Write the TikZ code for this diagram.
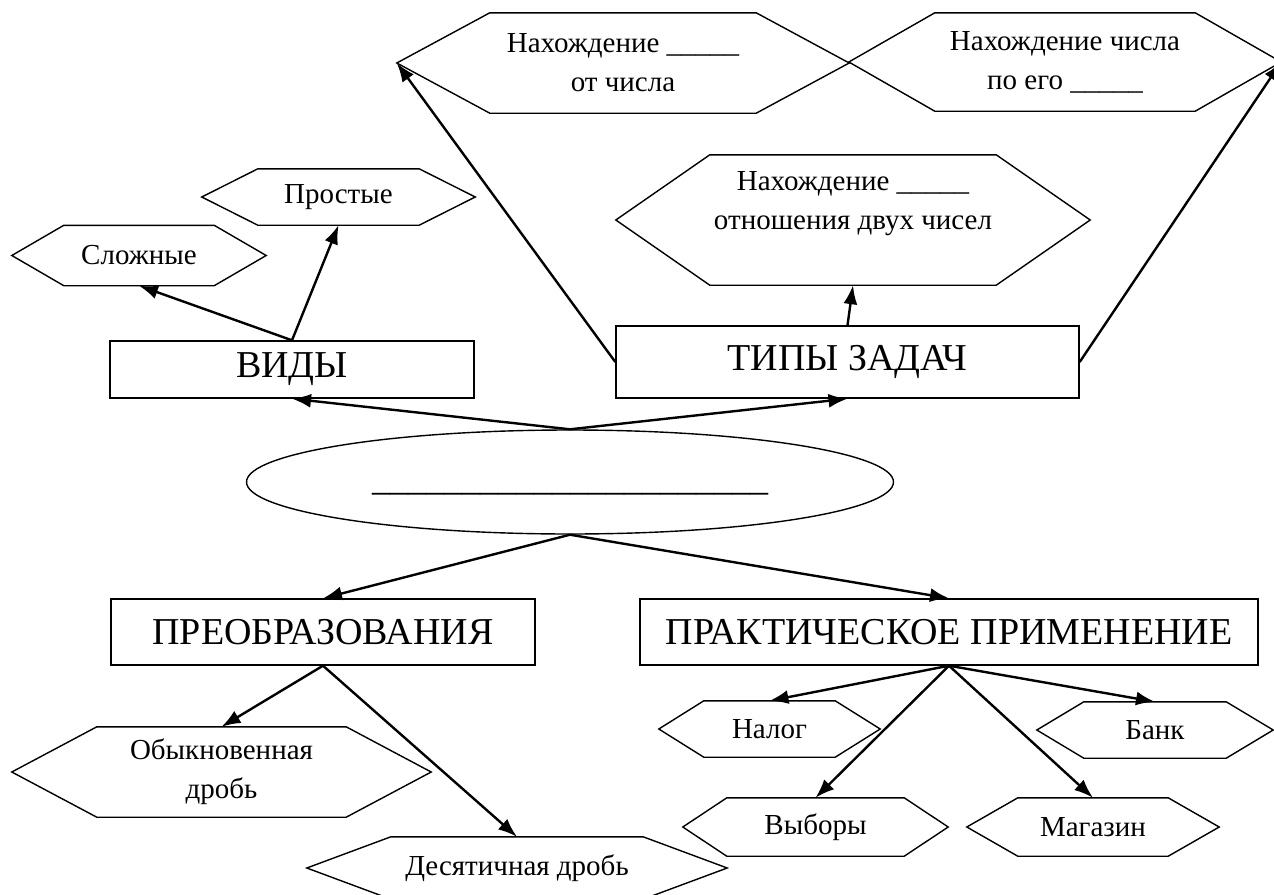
\documentclass[tikz,border=0pt]{standalone}
\usepackage{fontspec}
\setmainfont{Liberation Serif}
\usetikzlibrary{shapes.geometric,arrows.meta}

\begin{document}
\begin{tikzpicture}[x=1pt, y=-1pt,
  box/.style={draw, line width=1.4pt, inner sep=0pt, font=\fontsize{38}{42}\selectfont},
  hexa/.style n args={3}{minimum width=#1, minimum height=#2, inner sep=0pt, align=center,
    font=\fontsize{29}{39}\selectfont,
    append after command={\pgfextra{\draw[line width=1.4pt]
      (\tikzlastnode.west) -- ([xshift=#3]\tikzlastnode.north west)
      -- ([xshift=-#3]\tikzlastnode.north east) -- (\tikzlastnode.east)
      -- ([xshift=-#3]\tikzlastnode.south east) -- ([xshift=#3]\tikzlastnode.south west) -- cycle;}}},
  arr/.style={-{Latex[length=19pt,width=14pt]}, line width=2.4pt}]
\useasboundingbox (0,0) rectangle (1274,894);

% center
\node[draw, ellipse, line width=1.4pt, minimum width=647pt, minimum height=104pt, inner sep=0pt,
  font=\fontsize{36}{43}\selectfont] (tema) at (570,482)
  {\strut\_\_\_\_\_\_\_\_\_\_\_\_\_\_\_\_\_\_\_\_\_\_};

% top part
\node[box, minimum width=364pt, minimum height=57pt] (vidy) at (292,369.5) {ВИДЫ};
\node[box, minimum width=463pt, minimum height=72pt] (tipy) at (847.5,362) {ТИПЫ ЗАДАЧ};
\node[hexa={254pt}{60pt}{52pt}] (slozh) at (139,255.5) {Сложные};
\node[hexa={273pt}{56pt}{56pt}] (prost) at (338.5,197) {Простые};
\node[hexa={452pt}{100pt}{93pt}] (procent) at (623,63) {Нахождение \_\_\_\_\_\\от числа};
\node[hexa={432pt}{98pt}{86pt}] (chislo) at (1065,62) {Нахождение числа\\по его \_\_\_\_\_};
\node[hexa={474pt}{130pt}{94pt}] (otnosh) at (853,220) {Нахождение \_\_\_\_\_\\отношения двух чисел\\~};

% bottom part
\node[box, minimum width=424pt, minimum height=66pt] (preobr) at (323,632) {ПРЕОБРАЗОВАНИЯ};
\node[box, minimum width=618pt, minimum height=66pt] (prakt) at (949,632) {ПРАКТИЧЕСКОЕ ПРИМЕНЕНИЕ};
\node[hexa={419pt}{90pt}{85pt}] (obykn) at (221.5,772) {Обыкновенная\\дробь};
\node[hexa={420pt}{62pt}{84pt}] (desyat) at (517,868) {Десятичная дробь};
\node[hexa={221pt}{56pt}{45pt}] (nalog) at (769.5,729) {Налог};
\node[hexa={236pt}{56pt}{47pt}] (bank) at (1155,730) {Банк};
\node[hexa={265pt}{58pt}{44pt}] (vybory) at (815.5,827) {Выборы};
\node[hexa={252pt}{58pt}{51pt}] (magazin) at (1093,827) {Магазин};

% arrows
\draw[arr] (tema.north) -- (vidy.south);
\draw[arr] (tema.north) -- (tipy.south);
\draw[arr] (tema.south) -- (preobr.north);
\draw[arr] (tema.south) -- (prakt.north);
\draw[arr] (vidy.north) -- (slozh.south);
\draw[arr] (vidy.north) -- (prost.south);
\draw[arr] (tipy.north) -- (otnosh.south);
\draw[arr] (tipy.west) -- (procent.west);
\draw[arr] (tipy.east) -- (chislo.east);
\draw[arr] (preobr.south) -- (obykn.north);
\draw[arr] (preobr.south) -- (desyat.north);
\draw[arr] (prakt.south) -- (nalog.north);
\draw[arr] (prakt.south) -- (bank.north);
\draw[arr] (prakt.south) -- (vybory.north);
\draw[arr] (prakt.south) -- (magazin.north);
\end{tikzpicture}
\end{document}
